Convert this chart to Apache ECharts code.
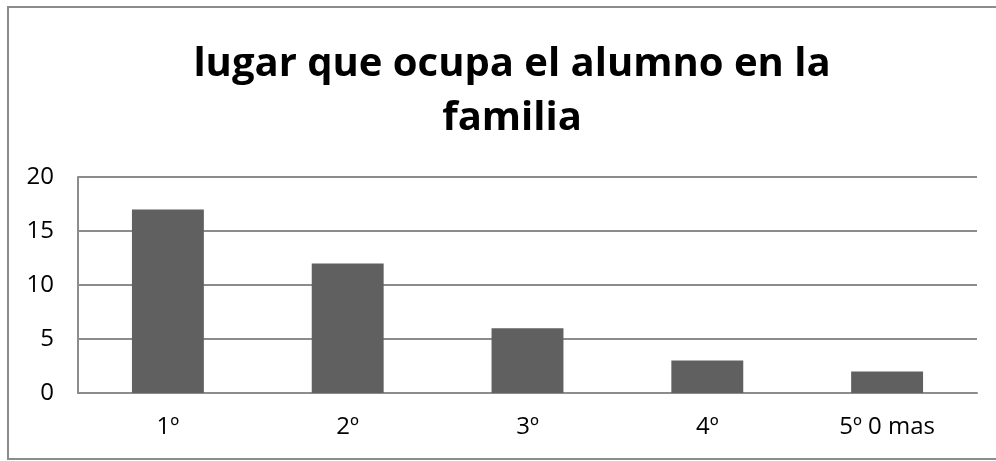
<!DOCTYPE html>
<html>
<head>
<meta charset="utf-8">
<script src="https://cdn.jsdelivr.net/npm/echarts@6/dist/echarts.min.js"></script>
<style>
  html, body { margin: 0; padding: 0; background: #fff; }
  #chart { width: 996px; height: 461px; }
</style>
</head>
<body>
<div id="chart"></div>
<script>
// 类目与数值
var categories = ['1º', '2º', '3º', '4º', '5º 0 mas'];
var values = [17, 12, 6, 3, 2];
var titleText = 'lugar que ocupa el alumno en la\nfamilia';

var myChart = echarts.init(document.getElementById('chart'));
var option = {
    animation: false,
    backgroundColor: '#ffffff',
    title: {
        text: titleText,
        left: 507,
        textAlign: 'center',
        top: 33,
        textStyle: {
            fontFamily: 'Open Sans',
            fontWeight: 'bold',
            fontSize: 40,
            lineHeight: 54,
            color: '#000'
        }
    },
    // 外框
    graphic: [{
        type: 'rect',
        shape: { x: 8, y: 7, width: 1000, height: 452 },
        style: { fill: 'none', stroke: '#8c8c8c', lineWidth: 2 }
    }],
    grid: {
        left: 78,
        right: 19,
        top: 177,
        bottom: 68
    },
    xAxis: {
        type: 'category',
        data: categories,
        axisLine: { lineStyle: { color: '#8c8c8c', width: 2 } },
        axisTick: { show: false },
        axisLabel: {
            color: '#000',
            fontFamily: 'Open Sans',
            fontSize: 24,
            margin: 22
        }
    },
    yAxis: {
        type: 'value',
        min: 0,
        max: 20,
        interval: 5,
        axisLine: { show: true, lineStyle: { color: '#8c8c8c', width: 2 } },
        axisTick: { show: false },
        splitLine: { lineStyle: { color: '#8c8c8c', width: 2 } },
        axisLabel: {
            color: '#000',
            fontFamily: 'Open Sans',
            fontSize: 24,
            margin: 24
        }
    },
    series: [{
        type: 'bar',
        data: values,
        barWidth: '40%',
        itemStyle: { color: '#606060' }
    }]
};
myChart.setOption(option);
</script>
</body>
</html>
